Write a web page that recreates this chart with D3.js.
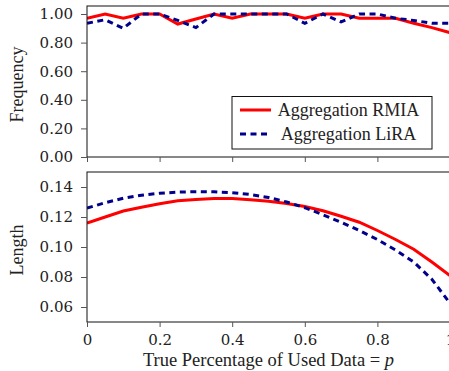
<!DOCTYPE html>
<html>
<head>
<meta charset="utf-8">
<script src="https://cdn.jsdelivr.net/npm/d3@7/dist/d3.min.js"></script>
<style>
  body { margin: 0; background: #fff; }
  svg { display: block; }
</style>
</head>
<body>
<svg id="chart" width="449" height="371"></svg>
<script>
// ---- data ----
const pValues = [0, 0.05, 0.1, 0.15, 0.2, 0.25, 0.3, 0.35, 0.4, 0.45, 0.5,
                 0.55, 0.6, 0.65, 0.7, 0.75, 0.8, 0.85, 0.9, 0.95, 1.0];
const freqRMIA = [0.97, 1.00, 0.97, 1.00, 1.00, 0.93, 0.965, 1.00, 0.97, 1.00, 1.00,
                  1.00, 0.97, 1.00, 1.00, 0.97, 0.97, 0.97, 0.935, 0.905, 0.87];
const freqLiRA = [0.935, 0.96, 0.90, 1.00, 1.00, 0.955, 0.905, 1.00, 1.00, 1.00, 1.00,
                  1.00, 0.935, 1.00, 0.945, 1.00, 1.00, 0.97, 0.955, 0.935, 0.935];
const lenRMIA = [0.116, 0.120, 0.124, 0.1265, 0.1288, 0.1308, 0.1317, 0.1323, 0.1323, 0.1315, 0.1305,
                 0.129, 0.127, 0.1242, 0.1205, 0.1165, 0.111, 0.105, 0.0985, 0.090, 0.081];
const lenLiRA = [0.126, 0.1295, 0.1325, 0.1345, 0.1358, 0.1366, 0.1369, 0.1368, 0.1362, 0.135, 0.133,
                 0.130, 0.1262, 0.1215, 0.1165, 0.111, 0.105, 0.098, 0.090, 0.0785, 0.0625];
const xTicks = [0, 0.2, 0.4, 0.6, 0.8, 1];
const xTickLabels = ["0", "0.2", "0.4", "0.6", "0.8", "1"];
const freqTicks = [0, 0.2, 0.4, 0.6, 0.8, 1.0];
const lenTicks = [0.06, 0.08, 0.10, 0.12, 0.14];
const seriesNames = ["Aggregation RMIA", "Aggregation LiRA"];

// ---- layout ----
const svg = d3.select("#chart");
const left = 87, right = 450;
const SERIF = "'Liberation Serif', 'Times New Roman', serif";
const TICKF = "'DejaVu Serif', serif";
const FS = 18;
const x = d3.scaleLinear().domain([0, 1]).range([left, right]);

const panels = [
  { top: 6, bottom: 157, domain: [0, 1.056], ticks: freqTicks, fmt: d3.format(".2f"),
    label: "Frequency", data: [freqRMIA, freqLiRA], showX: false },
  { top: 172, bottom: 322, domain: [0.05, 0.15], ticks: lenTicks, fmt: d3.format(".2f"),
    label: "Length", data: [lenRMIA, lenLiRA], showX: true }
];

const styles = [
  { color: "#ff0000", dash: null },
  { color: "#00008b", dash: "6,4.5" }
];

panels.forEach((P, pi) => {
  const y = d3.scaleLinear().domain(P.domain).range([P.bottom, P.top]);
  const g = svg.append("g");

  const clipId = "clip" + pi;
  svg.append("clipPath").attr("id", clipId).append("rect")
    .attr("x", left).attr("y", P.top).attr("width", right - left).attr("height", P.bottom - P.top);

  P.data.forEach((vals, si) => {
    const line = d3.line().x((d, i) => x(pValues[i])).y(d => y(d));
    g.append("path").datum(vals)
      .attr("clip-path", `url(#${clipId})`)
      .attr("d", line)
      .attr("fill", "none")
      .attr("stroke", styles[si].color)
      .attr("stroke-width", 3)
      .attr("stroke-dasharray", styles[si].dash);
  });

  g.append("rect").attr("x", left).attr("y", P.top)
    .attr("width", right - left).attr("height", P.bottom - P.top)
    .attr("fill", "none").attr("stroke", "#111").attr("stroke-width", 1);

  const ya = d3.axisLeft(y).tickValues(P.ticks).tickFormat(P.fmt).tickSize(6).tickPadding(8);
  const yg = g.append("g").attr("transform", `translate(${left},0)`).call(ya)
    .attr("font-family", TICKF).attr("font-size", 15);
  yg.select(".domain").remove();
  yg.selectAll("line").attr("stroke", "#555");
  yg.selectAll("text").attr("fill", "#222");

  const xa = d3.axisBottom(x).tickValues(xTicks).tickSize(5).tickPadding(7)
    .tickFormat((d, i) => P.showX ? xTickLabels[i] : "");
  const xg = g.append("g").attr("transform", `translate(0,${P.bottom})`).call(xa)
    .attr("font-family", TICKF).attr("font-size", 15);
  xg.select(".domain").remove();
  xg.selectAll("line").attr("stroke", "#555");
  xg.selectAll("text").attr("fill", "#222");

  g.append("text")
    .attr("transform", `translate(23,${(P.top + P.bottom) / 2 + 3}) rotate(-90)`)
    .attr("text-anchor", "middle")
    .attr("font-family", SERIF).attr("font-size", FS).attr("fill", "#222")
    .text(P.label);
});

const xl = svg.append("text")
  .attr("x", (left + right) / 2).attr("y", 366)
  .attr("text-anchor", "middle")
  .attr("font-family", SERIF).attr("font-size", 18.5).attr("fill", "#222");
xl.append("tspan").text("True Percentage of Used Data = ");
xl.append("tspan").attr("font-style", "italic").text("p");

const lg = svg.append("g");
lg.append("rect").attr("x", 232).attr("y", 96.5).attr("width", 200).attr("height", 52.5)
  .attr("fill", "#fff").attr("stroke", "#111").attr("stroke-width", 1);
seriesNames.forEach((name, i) => {
  const yy = 110 + i * 24;
  lg.append("line").attr("x1", 240).attr("x2", 271).attr("y1", yy).attr("y2", yy)
    .attr("stroke", styles[i].color).attr("stroke-width", 3)
    .attr("stroke-dasharray", styles[i].dash);
  lg.append("text").attr("x", 348.5).attr("y", yy + 6)
    .attr("text-anchor", "middle")
    .attr("font-family", SERIF).attr("font-size", FS).attr("fill", "#222")
    .text(name);
});
</script>
</body>
</html>
